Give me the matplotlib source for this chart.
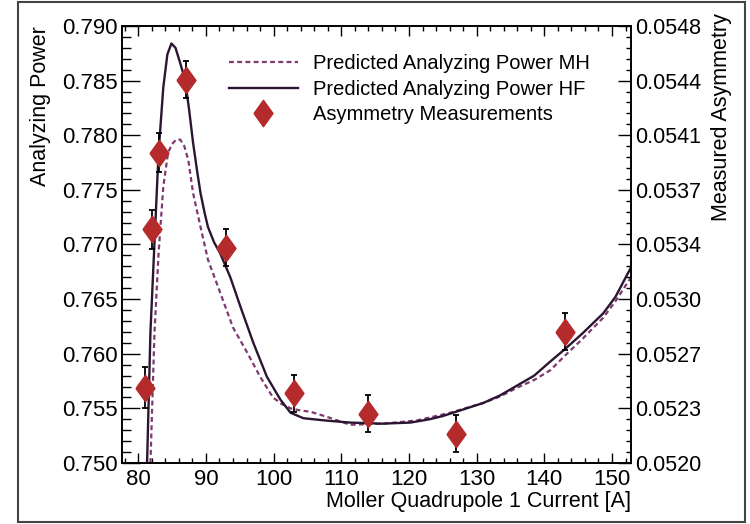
import numpy as np
import matplotlib
matplotlib.use('Agg')
import matplotlib.pyplot as plt
from matplotlib.ticker import MultipleLocator, FixedLocator, AutoMinorLocator

plt.rcParams['font.family'] = ['Liberation Sans', 'DejaVu Sans']

# measurements (plotted in analyzing-power units)
meas_current = [81, 82, 83, 87, 93, 103, 114, 127, 143]
meas_power = [0.7569, 0.7714, 0.7784, 0.7851, 0.7697, 0.7564, 0.7545, 0.7527, 0.7620]
meas_err = [0.0019, 0.0018, 0.0018, 0.0017, 0.0017, 0.0017, 0.0017, 0.0017, 0.0017]

# predicted analyzing power, Hartree-Fock
hf_current = [81.3, 81.8, 82.5, 83.0, 83.7, 84.3, 84.9, 85.5, 86.2, 86.9, 87.5, 88.1, 88.7,
              89.2, 89.8, 90.3, 91.2, 92.1, 93.6, 95.1, 97.0, 99.0, 101.0, 102.5, 104.4,
              107.5, 111.3, 116.0, 120.2, 123.0, 125.0, 128.0, 131.0, 133.5, 136.0, 138.5,
              140.9, 143.0, 145.7, 148.7, 150.5, 152.8]
hf_power = [0.7500, 0.7620, 0.7716, 0.7784, 0.7844, 0.7874, 0.7884, 0.7880, 0.7866, 0.7851,
            0.7824, 0.7793, 0.7767, 0.7747, 0.7729, 0.7716, 0.7702, 0.7692, 0.7670, 0.7643,
            0.7610, 0.7579, 0.7558, 0.7546, 0.7541, 0.7539, 0.7537, 0.7536, 0.7537, 0.7540,
            0.7543, 0.7549, 0.7555, 0.7562, 0.7571, 0.7580, 0.7593, 0.7604, 0.7619, 0.7637,
            0.7652, 0.7679]

# predicted analyzing power, Moller Hamiltonian
mh_current = [81.8, 82.4, 83.0, 83.7, 84.4, 85.0, 85.6, 86.2, 86.8, 87.4, 88.1, 89.2, 90.3,
              92.1, 94.0, 96.1, 98.0, 99.9, 101.2, 102.5, 104.0, 105.4, 108.0, 111.3, 116.2,
              121.2, 126.1, 131.0, 133.5, 136.0, 138.5, 140.9, 143.0, 145.7, 148.7, 150.5,
              152.8]
mh_power = [0.7500, 0.7620, 0.7692, 0.7753, 0.7784, 0.7792, 0.7796, 0.7796, 0.7790, 0.7777,
            0.7747, 0.7716, 0.7686, 0.7656, 0.7624, 0.7601, 0.7579, 0.7560, 0.7554, 0.7550,
            0.7548, 0.7547, 0.7542, 0.7535, 0.7536, 0.7539, 0.7546, 0.7555, 0.7561, 0.7569,
            0.7576, 0.7585, 0.7598, 0.7614, 0.7633, 0.7648, 0.7670]

power_ticks = [0.750, 0.755, 0.760, 0.765, 0.770, 0.775, 0.780, 0.785, 0.790]
asym_labels = ['0.0520', '0.0523', '0.0527', '0.0530', '0.0534', '0.0537', '0.0541',
               '0.0544', '0.0548']

DIAMOND = [(-0.36, 0), (0, 0.5), (0.36, 0), (0, -0.5), (-0.36, 0)]

fig = plt.figure(figsize=(7.5, 5.24), dpi=100)
ax = fig.add_axes([0.1627, 0.1164, 0.6786, 0.834])

ax.plot(mh_current, mh_power, linestyle=(0, (2.2, 1.5)), color='#7e3a70', lw=1.6,
        label='Predicted Analyzing Power MH')
ax.plot(hf_current, hf_power, color='#2a1631', lw=1.7,
        label='Predicted Analyzing Power HF')
ax.errorbar(meas_current, meas_power, yerr=meas_err, fmt='none', ecolor='black',
            elinewidth=1.3, capsize=2.2, capthick=1.3, zorder=3)
ax.plot(meas_current, meas_power, linestyle='none', marker=DIAMOND, ms=19,
        color='#b52a2a', mec='#b52a2a', zorder=4, label='Asymmetry Measurements')

ax.set_xlim(77.6, 152.8)
ax.set_ylim(0.750, 0.790)
ax.xaxis.set_major_locator(MultipleLocator(10))
ax.xaxis.set_minor_locator(MultipleLocator(2))
ax.yaxis.set_major_locator(FixedLocator(power_ticks))
ax.yaxis.set_minor_locator(MultipleLocator(0.001))
ax.yaxis.set_major_formatter(plt.FuncFormatter(lambda v, p: '%.3f' % v))

ax.tick_params(axis='x', which='both', direction='in', top=True, labelsize=16, pad=4)
ax.tick_params(axis='x', which='major', length=7.2, width=1)
ax.tick_params(axis='x', which='minor', length=3.6, width=1)
ax.tick_params(axis='y', which='both', direction='in', right=False, labelsize=16, pad=3)
ax.tick_params(axis='y', which='major', length=13, width=1)
ax.tick_params(axis='y', which='minor', length=6.5, width=1)

ax2 = ax.twinx()
ax2.set_ylim(0, 8)
ax2.yaxis.set_major_locator(FixedLocator(range(9)))
ax2.set_yticklabels(asym_labels)
ax2.yaxis.set_minor_locator(AutoMinorLocator(5))
ax2.tick_params(axis='y', which='both', direction='in', labelsize=15.5, pad=3)
ax2.tick_params(axis='y', which='major', length=9.4, width=1)
ax2.tick_params(axis='y', which='minor', length=3.6, width=1)

for a in (ax, ax2):
    for s in a.spines.values():
        s.set_linewidth(1.2)

ax.set_xlabel('Moller Quadrupole 1 Current [A]', fontsize=15.5, ha='right', x=1.0, labelpad=1)
ax.set_ylabel('Analyzing Power', fontsize=15.5, ha='right', y=1.0, labelpad=8)
ax2.set_ylabel('Measured Asymmetry', fontsize=15.5, ha='right', y=1.03, labelpad=7)

ax.legend(loc='upper left', bbox_to_anchor=(0.175, 0.978), frameon=False, fontsize=14.5,
          handlelength=3.4, handletextpad=0.75, labelspacing=0.34)

fig.add_artist(plt.Rectangle((0.024, 0.004), 0.969, 0.992, transform=fig.transFigure,
                             fill=False, edgecolor='#444444', lw=1.5))

fig.savefig('out.png', dpi=100)
